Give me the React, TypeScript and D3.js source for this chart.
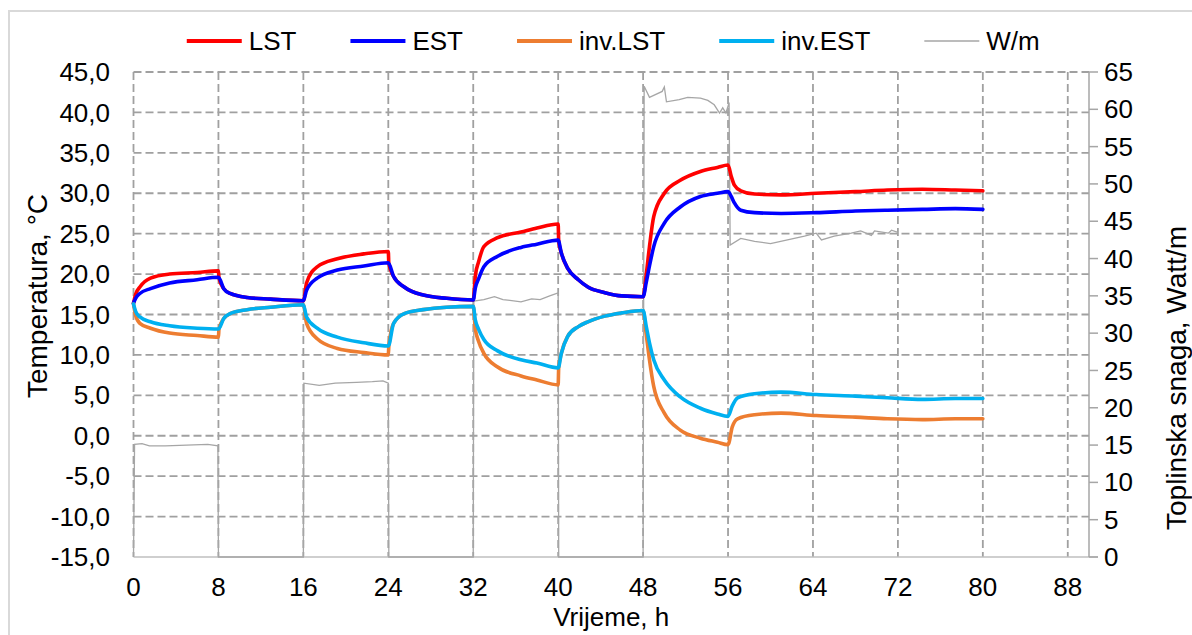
import React from "react";
import * as d3 from "d3";

// time in hours, temperature in °C
const LST: [number, number][] = [
  [0, 16.4], [0.2, 17.5], [0.6, 18.4], [1.6, 19.5], [3.4, 20.0], [6, 20.2], [8, 20.4],
  [8.05, 19.5], [8.5, 18.2], [9.1, 17.6], [10.7, 17.1], [12.9, 16.9], [16, 16.7],
  [16.3, 18.9], [17.3, 20.9], [19.2, 21.9], [21.7, 22.5], [24, 22.8],
  [24.05, 21.3], [24.5, 19.7], [25.5, 18.4], [27.3, 17.4], [29.5, 17.0], [32, 16.8],
  [32.2, 19.8], [32.5, 21.5], [33, 23.4], [34.3, 24.5], [36.5, 25.2], [38, 25.7], [40, 26.2],
  [40.05, 24.1], [40.3, 22.6], [40.9, 20.7], [41.9, 19.3], [42.8, 18.4], [44.4, 17.7], [46, 17.3], [48, 17.2],
  [48.3, 20.0], [48.6, 23.4], [49, 27.1], [50, 30.0], [51.5, 31.6], [53.4, 32.7], [55, 33.2], [56, 33.5],
  [56.3, 32.1], [56.6, 31.0], [57.2, 30.3], [58.5, 29.9], [61, 29.8], [64.3, 30.0], [68, 30.2],
  [71, 30.4], [74.3, 30.5], [77.4, 30.4], [80, 30.3],
];

const EST: [number, number][] = [
  [0, 16.4], [0.2, 17.0], [0.6, 17.6], [1.6, 18.2], [3.4, 18.9], [6, 19.3], [8, 19.6],
  [8.5, 18.2], [9.1, 17.6], [10.7, 17.1], [12.9, 16.9], [16, 16.7],
  [16.3, 18.0], [17.3, 19.5], [19.2, 20.5], [21.7, 21.0], [24, 21.4],
  [24.5, 19.7], [25.5, 18.4], [27.3, 17.4], [29.5, 17.0], [32, 16.8],
  [32.2, 18.3], [32.5, 19.4], [33, 20.9], [34.3, 22.2], [36.5, 23.3], [38, 23.7], [40, 24.2],
  [40.3, 22.6], [40.9, 20.7], [41.9, 19.3], [42.8, 18.4], [44.4, 17.7], [46, 17.3], [48, 17.2],
  [48.3, 19.0], [48.6, 21.0], [49, 23.4], [50, 26.3], [51.5, 28.3], [53.4, 29.6], [55, 30.0], [56, 30.2],
  [56.3, 29.6], [56.6, 28.8], [57.2, 27.9], [58.5, 27.6], [61, 27.5], [64.3, 27.6], [68, 27.8],
  [71, 27.9], [74.3, 28.0], [77.4, 28.1], [80, 28.0],
];

const INV_LST: [number, number][] = [
  [0, 16.3], [0.2, 14.9], [0.6, 13.9], [1.6, 13.3], [3.4, 12.7], [6, 12.4], [8, 12.2],
  [8.05, 13.2], [8.5, 14.5], [9.1, 15.1], [10.7, 15.6], [12.9, 15.9], [16, 16.2],
  [16.3, 13.9], [17.3, 12.0], [19.2, 10.8], [21.7, 10.3], [24, 10.0],
  [24.05, 11.1], [24.5, 13.9], [25.5, 15.1], [27.3, 15.6], [29.5, 15.9], [32, 16.0],
  [32.2, 13.2], [32.5, 11.7], [33, 10.2], [34.3, 8.5], [36.5, 7.4], [38, 6.9], [40, 6.3],
  [40.05, 8.4], [40.3, 10.2], [40.9, 12.3], [41.9, 13.5], [42.8, 14.1], [44.4, 14.8], [46, 15.2], [48, 15.5],
  [48.3, 12.5], [48.6, 9.4], [49, 6.1], [50, 2.8], [51.5, 0.7], [53.4, -0.3], [55, -0.8], [56, -1.1],
  [56.4, 1.1], [56.9, 2.1], [58.5, 2.6], [61, 2.8], [64.3, 2.5], [68, 2.3], [71, 2.1],
  [74.3, 2.0], [77.4, 2.1], [80, 2.1],
];

const INV_EST: [number, number][] = [
  [0, 16.3], [0.2, 15.4], [0.6, 14.7], [1.6, 14.1], [3.4, 13.6], [6, 13.3], [8, 13.2],
  [8.5, 14.5], [9.1, 15.1], [10.7, 15.6], [12.9, 15.9], [16, 16.2],
  [16.3, 14.7], [17.3, 13.3], [19.2, 12.2], [21.7, 11.5], [24, 11.1],
  [24.5, 13.9], [25.5, 15.1], [27.3, 15.6], [29.5, 15.9], [32, 16.0],
  [32.2, 14.3], [32.5, 13.2], [33, 11.9], [34.3, 10.5], [36.5, 9.4], [38, 9.0], [40, 8.4],
  [40.3, 10.2], [40.9, 12.3], [41.9, 13.5], [42.8, 14.1], [44.4, 14.8], [46, 15.2], [48, 15.5],
  [48.3, 13.5], [48.6, 11.5], [49, 9.4], [50, 6.9], [51.5, 4.8], [53.4, 3.4], [55, 2.7], [56, 2.4],
  [56.4, 3.7], [56.9, 4.7], [58.5, 5.2], [61, 5.4], [64.3, 5.1], [68, 4.9], [71, 4.7],
  [74.3, 4.5], [77.4, 4.6], [80, 4.6],
];

// heating power, W/m (right axis)
const WATT: [number, number][] = [
  [0, 0], [0.1, 15.1], [0.8, 15.2], [1.5, 14.9], [3, 14.9], [5, 15.0], [7, 15.1], [7.95, 14.9],
  [8, 0], [16, 0],
  [16.05, 23.3], [17.5, 23.0], [19, 23.3], [21, 23.4], [22.5, 23.5], [23.5, 23.6], [24, 23.3],
  [24.05, 0], [32, 0],
  [32.05, 34.3], [33, 34.5], [34, 34.9], [34.8, 34.5], [36.5, 34.2], [37.5, 34.6], [38.3, 34.5],
  [39.2, 35.0], [40, 35.4],
  [40.05, 0], [48, 0],
  [48.1, 63.1], [48.6, 61.6], [49.8, 62.4], [50, 63.0], [50.2, 61.0], [51.4, 61.3], [52.2, 61.6],
  [53.4, 61.5], [54.1, 61.2], [54.7, 60.6], [55.2, 59.5], [55.5, 60.2], [55.8, 59.5], [56.1, 60.9],
  [56.2, 41.8], [57.2, 42.7], [58.5, 42.3], [60, 42.0], [61.6, 42.5], [63.2, 43.0], [64.3, 43.4],
  [64.8, 42.5], [66, 43.0], [67.6, 43.4], [68.5, 43.7], [69.5, 43.1], [69.8, 43.7], [71.1, 43.4],
  [71.4, 43.8], [72, 43.5],
];

const SERIES_NAMES = ["LST", "EST", "inv.LST", "inv.EST", "W/m"];
const SERIES_COLORS = ["#ff0000", "#0000ff", "#ed7d31", "#00b0f0", "#a6a6a6"];

const X_TICKS = [0, 8, 16, 24, 32, 40, 48, 56, 64, 72, 80, 88];
const T_TICKS = [-15, -10, -5, 0, 5, 10, 15, 20, 25, 30, 35, 40, 45];
const W_TICKS = [0, 5, 10, 15, 20, 25, 30, 35, 40, 45, 50, 55, 60, 65];

const W = 1192;
const H = 635;
const FONT = "'Liberation Sans', Arial, sans-serif";
const FS = 26;
const TITLE_FS = 28;

const x = d3.scaleLinear().domain([0, 90]).range([133.5, 1089]);
const yT = d3.scaleLinear().domain([-15, 45]).range([557, 72]);
const yW = d3.scaleLinear().domain([0, 65]).range([557, 72]);

const tempLine = d3
  .line<[number, number]>()
  .x((d) => x(d[0]))
  .y((d) => yT(d[1]))
  .curve(d3.curveMonotoneX);

const wattLine = d3
  .line<[number, number]>()
  .x((d) => x(d[0]))
  .y((d) => yW(d[1]));

function textWidth(s: string) {
  const ctx = document.createElement("canvas").getContext("2d");
  if (!ctx) return s.length * FS * 0.55;
  ctx.font = `${FS}px ${FONT}`;
  return ctx.measureText(s).width;
}

const fmt = (v: number) => v.toFixed(1).replace(".", ",");

export default function App() {
  const [x0, x1] = x.range();

  // legend laid out centred above the plot
  const lineLen = 55;
  const widths = SERIES_NAMES.map(textWidth);
  const gap = 54;
  const total = d3.sum(widths) + SERIES_NAMES.length * (lineLen + 7) + gap * (SERIES_NAMES.length - 1);
  let lx = (x0 + x1) / 2 + 2 - total / 2;
  const legend = SERIES_NAMES.map((name, i) => {
    const item = { name, x: lx, color: SERIES_COLORS[i], thin: i === 4 };
    lx += lineLen + 7 + widths[i] + gap;
    return item;
  });

  const temps = [LST, EST, INV_LST, INV_EST];

  return (
    <svg
      width={W}
      height={H}
      style={{ position: "absolute", left: 0, top: 0, background: "#fff" }}
      fontFamily={FONT}
      fontSize={FS}
    >
      <rect x={9} y={11} width={1300} height={800} fill="#fff" stroke="#d9d9d9" strokeWidth={2} />

      {/* grid */}
      <g stroke="#a0a0a0" strokeWidth={1.8} strokeDasharray="8,4" fill="none">
        {T_TICKS.filter((t) => t > -15).map((t) => (
          <line key={"h" + t} x1={x0} x2={x1} y1={yT(t)} y2={yT(t)} />
        ))}
        {X_TICKS.map((t) => (
          <line key={"v" + t} x1={x(t)} x2={x(t)} y1={yT(45)} y2={yT(-15)} />
        ))}
      </g>
      <line x1={x0} x2={x1 + 9} y1={yT(-15)} y2={yT(-15)} stroke="#bfbfbf" strokeWidth={1.5} />
      <line x1={x1} x2={x1} y1={yW(65)} y2={yW(0)} stroke="#a6a6a6" strokeWidth={1.5} />
      {W_TICKS.map((t) => (
        <line key={"wt" + t} x1={x1} x2={x1 + 9} y1={yW(t)} y2={yW(t)} stroke="#a6a6a6" strokeWidth={1.5} />
      ))}

      {/* series */}
      <path d={wattLine(WATT) || ""} fill="none" stroke={SERIES_COLORS[4]} strokeWidth={1.3} />
      {temps.map((s, i) => (
        <path
          key={SERIES_NAMES[i]}
          d={tempLine(s) || ""}
          fill="none"
          stroke={SERIES_COLORS[i]}
          strokeWidth={3.6}
          strokeLinejoin="round"
          strokeLinecap="round"
        />
      ))}

      {/* left axis labels */}
      {T_TICKS.map((t) => (
        <text key={"tl" + t} x={110} y={yT(t)} dy="0.35em" textAnchor="end" fill="#000">
          {fmt(t)}
        </text>
      ))}
      {/* right axis labels */}
      {W_TICKS.map((t) => (
        <text key={"wl" + t} x={1104} y={yW(t)} dy="0.35em" textAnchor="start" fill="#000">
          {t}
        </text>
      ))}
      {/* bottom axis labels */}
      {X_TICKS.map((t) => (
        <text key={"xl" + t} x={x(t)} y={596} textAnchor="middle" fill="#000">
          {t}
        </text>
      ))}

      <text x={(x0 + x1) / 2} y={626} textAnchor="middle" fill="#000">
        Vrijeme, h
      </text>
      <text transform="translate(47,296) rotate(-90)" textAnchor="middle" fill="#000" fontSize={TITLE_FS}>
        Temperatura, °C
      </text>
      <text transform="translate(1186,378) rotate(-90)" textAnchor="middle" fill="#000" fontSize={TITLE_FS}>
        Toplinska snaga, Watt/m
      </text>

      {/* legend */}
      {legend.map((d) => (
        <g key={d.name}>
          <line
            x1={d.x}
            x2={d.x + lineLen}
            y1={41}
            y2={41}
            stroke={d.color}
            strokeWidth={d.thin ? 1.3 : 4}
          />
          <text x={d.x + lineLen + 7} y={50} fill="#000">
            {d.name}
          </text>
        </g>
      ))}
    </svg>
  );
}
